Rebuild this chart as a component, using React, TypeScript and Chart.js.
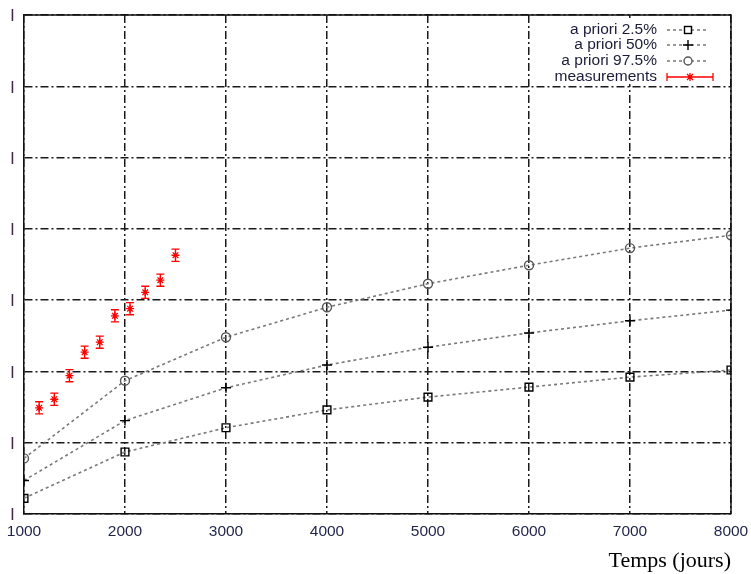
import React, { useEffect, useRef } from "react";
import { Chart, registerables } from "chart.js";

Chart.register(...registerables);

const xTicks = [1000, 2000, 3000, 4000, 5000, 6000, 7000, 8000];
const yTicks = [0, 1, 2, 3, 4, 5, 6, 7];

const prioriX = [1000, 2000, 3000, 4000, 5000, 6000, 7000, 8000];
const priori025 = [0.22, 0.87, 1.21, 1.46, 1.64, 1.78, 1.92, 2.02];
const priori50 = [0.47, 1.31, 1.77, 2.09, 2.34, 2.54, 2.71, 2.86];
const priori975 = [0.78, 1.87, 2.48, 2.9, 3.23, 3.49, 3.73, 3.91];

const measX = [1150, 1300, 1450, 1600, 1750, 1900, 2050, 2200, 2350, 2500];
const measY = [1.49, 1.61, 1.94, 2.27, 2.41, 2.78, 2.88, 3.11, 3.28, 3.63];
const measErr = [0.085, 0.085, 0.085, 0.085, 0.085, 0.085, 0.085, 0.085, 0.085, 0.085];

const legendLabels = ["a priori 2.5%", "a priori 50%", "a priori 97.5%", "measurements"];

const LINE_GREY = "#7a7a7a";
const RED = "#ff0000";

export default function App() {
  const ref = useRef<HTMLCanvasElement>(null);

  useEffect(() => {
    const canvas = ref.current;
    if (!canvas) return;

    const pts = (xs: number[], ys: number[]) => xs.map((x, i) => ({ x, y: ys[i] }));

    const errorBars = {
      id: "errorBars",
      afterDatasetsDraw(chart: any) {
        const { ctx, scales } = chart;
        const xs = scales.x;
        const ys = scales.y;
        ctx.save();
        ctx.strokeStyle = RED;
        ctx.lineWidth = 1.3;
        measX.forEach((mx, i) => {
          const px = xs.getPixelForValue(mx);
          const top = ys.getPixelForValue(measY[i] + measErr[i]);
          const bot = ys.getPixelForValue(measY[i] - measErr[i]);
          ctx.beginPath();
          ctx.moveTo(px, top);
          ctx.lineTo(px, bot);
          ctx.moveTo(px - 4, top);
          ctx.lineTo(px + 4, top);
          ctx.moveTo(px - 4, bot);
          ctx.lineTo(px + 4, bot);
          ctx.stroke();
        });
        ctx.restore();
      },
    };

    const frame = {
      id: "frame",
      afterDraw(chart: any) {
        const { ctx, chartArea: a } = chart;
        ctx.save();
        ctx.strokeStyle = "#111";
        ctx.lineWidth = 1.5;
        ctx.beginPath();
        ctx.moveTo(a.left, a.top);
        ctx.lineTo(a.right, a.top);
        ctx.lineTo(a.right, a.bottom);
        ctx.stroke();

        // legend
        const textRight = 657;
        const sampleL = 667;
        const sampleR = 709;
        const rowY = [30, 45, 61, 77];
        ctx.fillStyle = "#ffffff";
        ctx.fillRect(555, 18, 170, 66);
        ctx.font = "15.5px 'Liberation Sans', Arial, sans-serif";
        ctx.textAlign = "right";
        ctx.textBaseline = "middle";
        ctx.fillStyle = "#1c1c3a";
        legendLabels.forEach((t, i) => ctx.fillText(t, textRight, rowY[i]));

        for (let i = 0; i < 3; i++) {
          const y = rowY[i];
          ctx.strokeStyle = LINE_GREY;
          ctx.lineWidth = 1.5;
          ctx.setLineDash([3, 3]);
          ctx.beginPath();
          ctx.moveTo(sampleL, y);
          ctx.lineTo(sampleR, y);
          ctx.stroke();
          ctx.setLineDash([]);
          const cx = 688;
          ctx.lineWidth = 1.4;
          if (i === 0) {
            ctx.strokeStyle = "#000";
            ctx.fillStyle = "#fff";
            ctx.fillRect(cx - 3.5, y - 3.5, 7, 7);
            ctx.strokeRect(cx - 3.5, y - 3.5, 7, 7);
          } else if (i === 1) {
            ctx.strokeStyle = "#000";
            ctx.beginPath();
            ctx.moveTo(cx - 5, y);
            ctx.lineTo(cx + 5, y);
            ctx.moveTo(cx, y - 5);
            ctx.lineTo(cx, y + 5);
            ctx.stroke();
          } else {
            ctx.strokeStyle = "#555";
            ctx.fillStyle = "#fff";
            ctx.beginPath();
            ctx.arc(cx, y, 4, 0, Math.PI * 2);
            ctx.fill();
            ctx.stroke();
          }
        }
        // measurements sample
        const y = rowY[3];
        ctx.strokeStyle = RED;
        ctx.lineWidth = 1.3;
        ctx.beginPath();
        ctx.moveTo(667, y);
        ctx.lineTo(713, y);
        ctx.moveTo(667, y - 4);
        ctx.lineTo(667, y + 4);
        ctx.moveTo(713, y - 4);
        ctx.lineTo(713, y + 4);
        const sx = 690;
        ctx.moveTo(sx - 4, y);
        ctx.lineTo(sx + 4, y);
        ctx.moveTo(sx, y - 4);
        ctx.lineTo(sx, y + 4);
        ctx.moveTo(sx - 3, y - 3);
        ctx.lineTo(sx + 3, y + 3);
        ctx.moveTo(sx - 3, y + 3);
        ctx.lineTo(sx + 3, y - 3);
        ctx.stroke();
        ctx.restore();
      },
    };

    const chart = new Chart(canvas, {
      type: "scatter",
      data: {
        datasets: [
          {
            label: legendLabels[0],
            data: pts(prioriX, priori025),
            showLine: true,
            borderColor: LINE_GREY,
            borderWidth: 1.6,
            borderDash: [3, 3],
            pointStyle: "rect",
            pointRadius: 5.5,
            pointBorderColor: "#000",
            pointBackgroundColor: "rgba(255,255,255,0)",
            pointBorderWidth: 1.4,
          },
          {
            label: legendLabels[1],
            data: pts(prioriX, priori50),
            showLine: true,
            borderColor: LINE_GREY,
            borderWidth: 1.6,
            borderDash: [3, 3],
            pointStyle: "cross",
            pointRadius: 5,
            pointBorderColor: "#000",
            pointBorderWidth: 1.4,
          },
          {
            label: legendLabels[2],
            data: pts(prioriX, priori975),
            showLine: true,
            borderColor: LINE_GREY,
            borderWidth: 1.6,
            borderDash: [3, 3],
            pointStyle: "circle",
            pointRadius: 4.5,
            pointBorderColor: "#555",
            pointBackgroundColor: "rgba(255,255,255,0)",
            pointBorderWidth: 1.4,
          },
          {
            label: legendLabels[3],
            data: pts(measX, measY),
            showLine: false,
            pointStyle: "star",
            pointRadius: 4,
            pointBorderColor: RED,
            pointBackgroundColor: RED,
            pointBorderWidth: 1.3,
          },
        ],
      },
      options: {
        responsive: false,
        animation: false,
        layout: { padding: { top: 15, right: 20, left: 0, bottom: 0 } },
        plugins: {
          legend: { display: false },
          tooltip: { enabled: false },
        },
        scales: {
          x: {
            type: "linear",
            min: 1000,
            max: 8000,
            afterBuildTicks: (s: any) => {
              s.ticks = xTicks.map((v) => ({ value: v }));
            },
            afterFit: (s: any) => {
              s.height = 60;
              s.paddingLeft = 0;
              s.paddingRight = 0;
            },
            ticks: {
              padding: 8,
              color: "#1f2448",
              font: { family: "'Liberation Sans', Arial, sans-serif", size: 15.5 },
              maxRotation: 0,
              autoSkip: false,
              callback: (v: any) => String(v),
            },
            grid: { color: "#1a1a1a", lineWidth: 1.5, drawTicks: false },
            border: { display: true, color: "#111", width: 1.5, dash: [8, 3, 2, 3] },
            title: {
              display: true,
              text: "Temps (jours)",
              align: "end",
              color: "#000",
              font: { family: "'Liberation Serif', 'Times New Roman', serif", size: 22 },
              padding: { top: 2, bottom: 0 },
            },
          },
          y: {
            type: "linear",
            min: 0,
            max: 7,
            afterBuildTicks: (s: any) => {
              s.ticks = yTicks.map((v) => ({ value: v }));
            },
            afterFit: (s: any) => {
              s.width = 24;
              s.paddingTop = 0;
              s.paddingBottom = 0;
            },
            ticks: {
              padding: 10,
              color: "#402848",
              font: { family: "'Liberation Sans', Arial, sans-serif", size: 12, weight: "bold" },
              callback: () => "|",
            },
            grid: { color: "#1a1a1a", lineWidth: 1.5, drawTicks: false },
            border: { display: true, color: "#111", width: 1.5, dash: [8, 3, 2, 3] },
          },
        },
      },
      plugins: [errorBars, frame],
    } as any);

    return () => chart.destroy();
  }, []);

  return (
    <div style={{ position: "absolute", left: 0, top: 0, width: 751, height: 574, background: "#fff" }}>
      <canvas ref={ref} width={751} height={574} style={{ width: 751, height: 574 }} />
    </div>
  );
}
